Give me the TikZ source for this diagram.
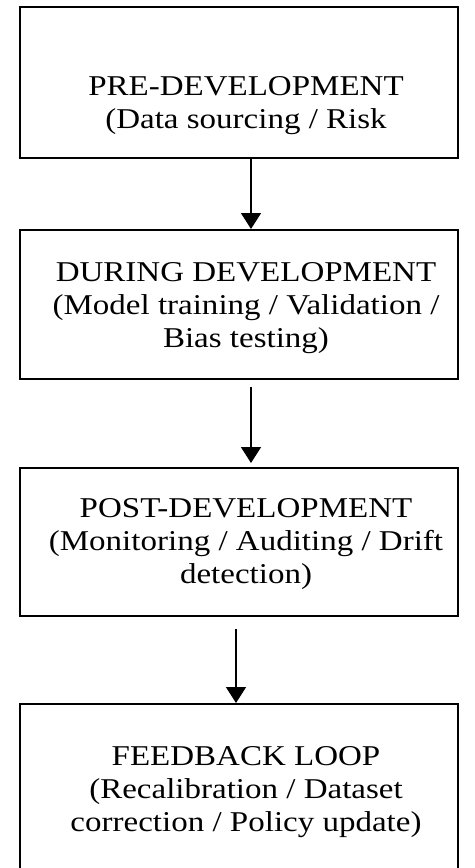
\documentclass[tikz,border=0pt]{standalone}
\usepackage{fontspec}
\setmainfont{Liberation Serif}[FakeStretch=1.15]
\usetikzlibrary{arrows.meta,positioning}
\tikzset{
  stage/.style={draw=black,line width=1pt,minimum width=219pt,inner sep=0pt,anchor=north west},
  stagetxt/.style={align=center,font=\fontsize{14.35}{16.5}\selectfont,inner sep=0pt,anchor=base},
  ar/.style={-{Triangle[width=10pt,length=8pt]},line width=0.75pt}
}
\begin{document}
\begin{tikzpicture}[x=0.5pt,y=-0.5pt]
\useasboundingbox (0,0) rectangle (475,868);
\clip (0,0) rectangle (475,868);
% boxes
\node[stage,minimum height=75.5pt] (pre) at (19,6) {};
\node[stage,minimum height=74.5pt] (during) at (19,229) {};
\node[stage,minimum height=74pt] (post) at (19,467) {};
\node[stage,minimum height=90pt] (feedback) at (19,703) {};
% texts
\node[stagetxt] (preT) at ([xshift=3.5pt,yshift=-61pt]pre.north) {PRE-DEVELOPMENT\\(Data sourcing / Risk};
\node[stagetxt] (duringT) at ([xshift=3.5pt,yshift=-59pt]during.north) {DURING DEVELOPMENT\\(Model training / Validation /\\Bias testing)};
\node[stagetxt] (postT) at ([xshift=3.5pt,yshift=-58pt]post.north) {POST-DEVELOPMENT\\(Monitoring / Auditing / Drift\\detection)};
\node[stagetxt] (feedbackT) at ([xshift=3.5pt,yshift=-64pt]feedback.north) {FEEDBACK LOOP\\(Recalibration / Dataset\\correction / Policy update)};
% arrows
\draw[ar] ([xshift=6pt]pre.south) -- ([xshift=6pt]during.north);
\draw[ar] ([xshift=6pt,yshift=-3.5pt]during.south) -- ([xshift=6pt,yshift=2pt]post.north);
\draw[ar] ([xshift=-1.5pt,yshift=-6pt]post.south) -- ([xshift=-1.5pt]feedback.north);
\end{tikzpicture}
\end{document}
